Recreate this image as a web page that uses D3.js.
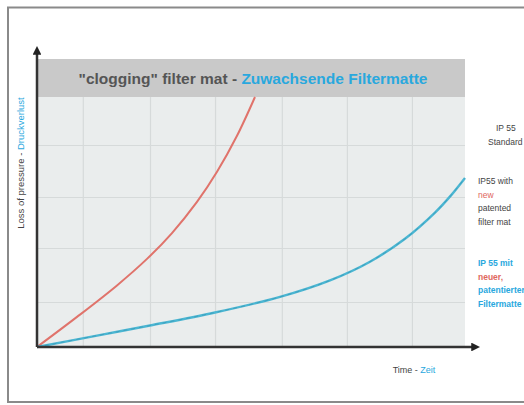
<!DOCTYPE html>
<html><head><meta charset="utf-8">
<script src="https://cdn.jsdelivr.net/npm/d3@7"></script>
<style>body{margin:0;background:#fff;font-family:"Liberation Sans",Arial,sans-serif;}</style>
</head><body>
<svg id="c" width="524" height="405"></svg>
<script>
// Data (time and pressure-loss in relative units 0..100)
const standardTime = [0, 9.35, 18.69, 25.7, 31.54, 37.38, 42.06, 46.73, 50.93];
const standardLoss = [0, 12.04, 24.64, 35.24, 45.58, 58.04, 70.08, 84.48, 100];
const patentedTime = [0, 14.02, 26.4, 41.59, 56.78, 68.46, 77.8, 85.98, 92.99, 96.73, 100];
const patentedLoss = [0, 4.56, 8.6, 13.8, 20.04, 26.64, 34.12, 43.28, 53.76, 60.64, 67.6];
const gridTimes = [10.7, 26.4, 41.6, 57.2, 72.4, 87.6];
const gridLosses = [18, 39.6, 60, 80.8];
const titleParts = ['"clogging" filter mat - ', 'Zuwachsende Filtermatte'];
const yLabelParts = ['Loss of pressure - ', 'Druckverlust'];
const xLabelParts = ['Time - ', 'Zeit'];
const labelStandard = ['IP 55', 'Standard'];
const labelPatentedEn = [['IP55 with','#444'],['new','#e0675e'],['patented','#444'],['filter mat','#444']];
const labelPatentedDe = [['IP 55 mit','#29a8de'],['neuer,','#e0675e'],['patentierter','#29a8de'],['Filtermatte','#29a8de']];

const svg = d3.select('#c');
const L = 37, R = 465, B = 347, T = 97;
const x = d3.scaleLinear().domain([0,100]).range([L,R]);
const y = d3.scaleLinear().domain([0,100]).range([B,T]);
const blue = '#29a8de', dark = '#444';

// outer frame
svg.append('rect').attr('x',8).attr('y',7.5).attr('width',530).attr('height',394.5)
  .attr('fill','none').attr('stroke','#8a8a8a').attr('stroke-width',2);

// plot background
svg.append('rect').attr('x',L).attr('y',T).attr('width',R-L).attr('height',B-T).attr('fill','#eaeded');
// title band
svg.append('rect').attr('x',L).attr('y',59).attr('width',R-L).attr('height',T-59).attr('fill','#c9c9c9');

// grid via axes
svg.append('g').attr('transform',`translate(0,${B})`)
  .call(d3.axisBottom(x).tickValues(gridTimes).tickSize(-(B-T)).tickFormat(''))
  .call(g=>{g.select('.domain').remove(); g.selectAll('line').attr('stroke','#d6dada').attr('stroke-width',1.2);});
svg.append('g').attr('transform',`translate(${L},0)`)
  .call(d3.axisLeft(y).tickValues(gridLosses).tickSize(-(R-L)).tickFormat(''))
  .call(g=>{g.select('.domain').remove(); g.selectAll('line').attr('stroke','#d6dada').attr('stroke-width',1.2);});

// title
const tt = svg.append('text').attr('x',(L+R)/2+2).attr('y',84).attr('text-anchor','middle')
  .attr('font-size',15.5).attr('font-weight','bold');
tt.append('tspan').attr('fill','#555').text(titleParts[0]);
tt.append('tspan').attr('fill',blue).text(titleParts[1]);

// curves
const line = d3.line().x(d=>x(d[0])).y(d=>y(d[1])).curve(d3.curveCatmullRom.alpha(0.5));
svg.append('path').datum(standardTime.map((t,i)=>[t,standardLoss[i]]))
  .attr('d',line).attr('fill','none').attr('stroke','#e0736b').attr('stroke-width',2);
svg.append('path').datum(patentedTime.map((t,i)=>[t,patentedLoss[i]]))
  .attr('d',line).attr('fill','none').attr('stroke','#4bb6d2').attr('stroke-width',2.4);
svg.append('path').datum(patentedTime.map((t,i)=>[t,patentedLoss[i]]))
  .attr('d',line).attr('fill','none').attr('stroke','#2f8aa8').attr('stroke-width',0.8).attr('stroke-dasharray','4,4').attr('opacity',0.6);

// axes arrows
svg.append('defs').append('marker').attr('id','arr').attr('viewBox','0 0 10 10').attr('refX',2).attr('refY',5)
  .attr('markerWidth',3.5).attr('markerHeight',3.5).attr('orient','auto')
  .append('path').attr('d','M0,0L10,5L0,10z').attr('fill','#222');
svg.append('line').attr('x1',L).attr('y1',B).attr('x2',473).attr('y2',B)
  .attr('stroke','#333').attr('stroke-width',2.5).attr('marker-end','url(#arr)');
svg.append('line').attr('x1',L).attr('y1',B).attr('x2',L).attr('y2',53)
  .attr('stroke','#333').attr('stroke-width',2.5).attr('marker-end','url(#arr)');

// y label
const yl = svg.append('text').attr('transform','translate(24,163) rotate(-90)').attr('text-anchor','middle')
  .attr('font-size',9.5).attr('font-family','"Liberation Sans Narrow","Liberation Sans",sans-serif');
yl.append('tspan').attr('fill',dark).text(yLabelParts[0]);
yl.append('tspan').attr('fill',blue).text(yLabelParts[1]);

// x label
const xl = svg.append('text').attr('x',414).attr('y',373).attr('text-anchor','middle')
  .attr('font-size',9).attr('font-family','"Liberation Sans Narrow","Liberation Sans",sans-serif');
xl.append('tspan').attr('fill',dark).text(xLabelParts[0]);
xl.append('tspan').attr('fill',blue).text(xLabelParts[1]);

// right labels
const rf = '"Liberation Sans Narrow","Liberation Sans",sans-serif';
svg.append('g').selectAll('text').data(labelStandard).join('text')
  .attr('x',(d,i)=> i===0? 496: 488).attr('y',(d,i)=>131+i*14).attr('font-size',8.5)
  .attr('font-family',rf).attr('fill',dark).text(d=>d);
svg.append('g').selectAll('text').data(labelPatentedEn).join('text')
  .attr('x',478).attr('y',(d,i)=>184+i*13.5).attr('font-size',8.5)
  .attr('font-family',rf).attr('fill',d=>d[1]).text(d=>d[0]);
svg.append('g').selectAll('text').data(labelPatentedDe).join('text')
  .attr('x',478).attr('y',(d,i)=>266+i*13.5).attr('font-size',8.5).attr('font-weight','bold')
  .attr('font-family',rf).attr('fill',d=>d[1]).text(d=>d[0]);
</script>
</body></html>
